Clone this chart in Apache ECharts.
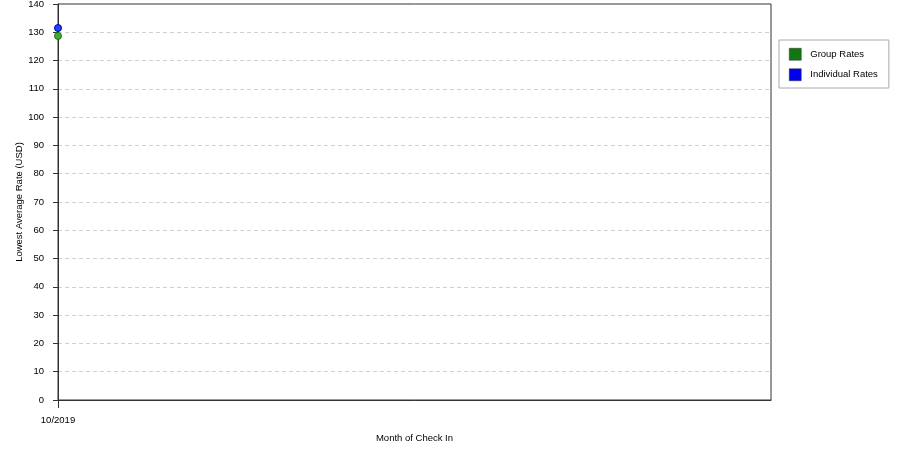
<!DOCTYPE html>
<html>
<head>
<meta charset="utf-8">
<script src="https://cdn.jsdelivr.net/npm/echarts@6/dist/echarts.min.js"></script>
<style>
  html, body { margin: 0; padding: 0; background: #fff; }
  #chart { width: 900px; height: 450px; }
</style>
</head>
<body>
<div id="chart"></div>
<script>
const months = ["10/2019"]
const groupRates = [128.7]
const individualRates = [131.5]
const yTicks = { min: 0, max: 140, interval: 10 }

const font = "Liberation Sans"
const fontSize = 9.5
const chart = echarts.init(document.getElementById("chart"), null, { renderer: "canvas" })

function points(values) {
  return values.map((v, i) => [i, v])
}

chart.setOption({
  animation: false,
  textStyle: { fontFamily: font },
  grid: {
    left: 58, right: 129, top: 4, bottom: 50,
    outerBoundsMode: "none",
    show: true, borderColor: "#333", borderWidth: 1
  },
  legend: {
    orient: "vertical",
    left: 779,
    top: 40,
    padding: [8, 11, 7, 10],
    itemGap: 8,
    itemWidth: 12,
    itemHeight: 12,
    icon: "rect",
    borderColor: "#aaa",
    borderWidth: 1,
    textStyle: { fontFamily: font, fontSize: fontSize, color: "#000", padding: [0, 0, 0, 4] },
    data: [
      { name: "Group Rates", itemStyle: { color: "#117711", opacity: 1, borderColor: "#333", borderWidth: 0.5 } },
      { name: "Individual Rates", itemStyle: { color: "#0000ee", opacity: 1, borderColor: "#333", borderWidth: 0.5 } }
    ]
  },
  xAxis: {
    type: "value",
    min: 0,
    max: 1,
    name: "Month of Check In",
    nameLocation: "middle",
    nameGap: 33,
    nameMoveOverlap: false,
    nameTextStyle: { fontFamily: font, fontSize: fontSize, color: "#000" },
    axisLine: { lineStyle: { color: "#333" } },
    axisTick: { show: true, length: 8, customValues: [0], lineStyle: { color: "#333" } },
    axisLabel: {
      customValues: [0],
      fontFamily: font,
      fontSize: fontSize,
      color: "#000",
      margin: 15,
      formatter: v => months[v] || ""
    },
    splitLine: { show: false }
  },
  yAxis: {
    type: "value",
    min: yTicks.min,
    max: yTicks.max,
    interval: yTicks.interval,
    name: "Lowest Average Rate (USD)",
    nameLocation: "middle",
    nameGap: 34,
    nameMoveOverlap: false,
    nameTextStyle: { fontFamily: font, fontSize: fontSize, color: "#000" },
    axisLine: { show: true, lineStyle: { color: "#333" } },
    axisTick: { show: true, length: 5, lineStyle: { color: "#333" } },
    axisLabel: { fontFamily: font, fontSize: fontSize, color: "#000", margin: 14 },
    splitLine: { showMinLine: false, showMaxLine: false, lineStyle: { color: "#d0d0d0", type: [4, 3] } }
  },
  series: [
    {
      name: "Group Rates",
      type: "scatter",
      symbol: "circle",
      symbolSize: 7,
      itemStyle: { color: "#44aa33", opacity: 1, borderColor: "#117711", borderWidth: 1 },
      data: points(groupRates)
    },
    {
      name: "Individual Rates",
      type: "scatter",
      symbol: "circle",
      symbolSize: 7,
      itemStyle: { color: "#2244ff", opacity: 1, borderColor: "#0000aa", borderWidth: 1 },
      data: points(individualRates)
    }
  ]
})
</script>
</body>
</html>
